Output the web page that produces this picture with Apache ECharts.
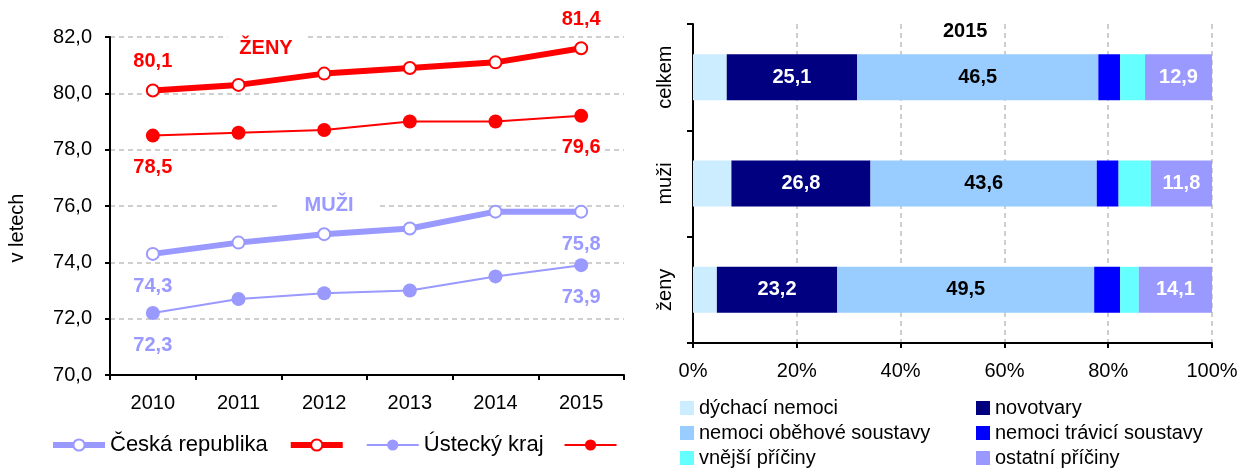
<!DOCTYPE html>
<html>
<head>
<meta charset="utf-8">
<script src="https://cdn.jsdelivr.net/npm/echarts@6/dist/echarts.min.js"></script>
<style>
html,body{margin:0;padding:0;background:#fff;}
#c{width:1243px;height:470px;}
</style>
</head>
<body>
<div id="c"></div>
<script>
// ---- Left chart data ----
const years = ['2010', '2011', '2012', '2013', '2014', '2015'];
const crZeny = [80.1, 80.3, 80.7, 80.9, 81.1, 81.6];
const ukZeny = [78.5, 78.6, 78.7, 79.0, 79.0, 79.2];
const crMuzi = [74.3, 74.7, 75.0, 75.2, 75.8, 75.8];
const ukMuzi = [72.2, 72.7, 72.9, 73.0, 73.5, 73.9];
const crZenyLbl = ['80,1', '', '', '', '', '81,4'];
const ukZenyLbl = ['78,5', '', '', '', '', '79,6'];
const crMuziLbl = ['74,3', '', '', '', '', '75,8'];
const ukMuziLbl = ['72,3', '', '', '', '', '73,9'];
const leftLegendNames = ['Česká republika', 'ČR ženy', 'Ústecký kraj', 'ÚK ženy'];
const leftLegendShown = ['Česká republika', '', 'Ústecký kraj', ''];

// ---- Right chart data ----
const groups = ['celkem', 'muži', 'ženy'];
const causes = ['dýchací nemoci', 'novotvary', 'nemoci oběhové soustavy', 'nemoci trávicí soustavy', 'vnější příčiny', 'ostatní příčiny'];
const dychaci = [6.5, 7.4, 4.6];
const novotvary = [25.1, 26.8, 23.2];
const obehove = [46.5, 43.6, 49.5];
const travici = [4.2, 4.2, 5.0];
const vnejsi = [4.8, 6.2, 3.6];
const ostatni = [12.9, 11.8, 14.1];
const xTickFmt = '{value}%';

const FONT = 'Liberation Sans, Arial, sans-serif';
const RED = '#FF0000';
const LAV = '#9999FF';

function fmt(v) { return v.toFixed(1).replace('.', ','); }

function pointData(vals, lbls, color, pos, dist) {
  return vals.map((v, i) => {
    if (!lbls[i]) return v;
    return {
      value: v,
      label: {
        show: true, position: pos, distance: dist,
        formatter: lbls[i], color: color, fontWeight: 'bold', fontSize: 20,
        fontFamily: FONT, backgroundColor: '#fff', padding: [0, 3]
      }
    };
  });
}

function lineSeries(name, vals, lbls, color, thick, hollow, pos, dist) {
  return {
    type: 'line', name: name, xAxisIndex: 0, yAxisIndex: 0,
    data: pointData(vals, lbls, color, pos, dist),
    symbol: 'circle', symbolSize: hollow ? 12 : 14,
    lineStyle: { color: color, width: thick ? 6 : 2 },
    itemStyle: hollow ? { color: '#fff', borderColor: color, borderWidth: 2 } : { color: color, borderWidth: 0 },
    label: { show: false },
    z: thick ? 3 : 2,
    animation: false
  };
}

function barSeries(name, vals, color, labelColor) {
  return {
    type: 'bar', name: name, stack: 'all', xAxisIndex: 1, yAxisIndex: 1,
    data: vals, barWidth: 46,
    itemStyle: { color: color },
    label: labelColor ? {
      show: true, position: 'inside', color: labelColor, fontWeight: 'bold',
      fontSize: 20, fontFamily: FONT, formatter: p => fmt(p.value)
    } : { show: false },
    animation: false
  };
}

const chart = echarts.init(document.getElementById('c'), null, { renderer: 'canvas' });
const axisLine = { show: true, lineStyle: { color: '#000', width: 2 } };
const gridDash = { show: true, lineStyle: { color: '#C0C0C0', type: [5, 4], width: 1.5 } };

chart.setOption({
  animation: false,
  textStyle: { fontFamily: FONT },
  grid: [
    { left: 110, top: 37, width: 514, height: 338, containLabel: false },
    { left: 693, top: 24, width: 519, height: 319, containLabel: false }
  ],
  xAxis: [
    {
      gridIndex: 0, type: 'category', data: years, boundaryGap: true,
      axisLine: axisLine,
      axisTick: { show: true, length: 5, lineStyle: { color: '#000', width: 2 } },
      axisLabel: { fontSize: 20, color: '#000', margin: 18, fontFamily: FONT },
      splitLine: { show: false }
    },
    {
      gridIndex: 1, type: 'value', min: 0, max: 100, interval: 20,
      axisLine: axisLine,
      axisTick: { show: true, length: 5, lineStyle: { color: '#000', width: 2 } },
      axisLabel: { fontSize: 20, color: '#000', margin: 18, formatter: xTickFmt, fontFamily: FONT },
      splitLine: gridDash
    }
  ],
  yAxis: [
    {
      gridIndex: 0, type: 'value', min: 70, max: 82, interval: 2,
      axisLine: axisLine,
      axisTick: { show: true, length: 5, lineStyle: { color: '#000', width: 2 } },
      axisLabel: { fontSize: 20, color: '#000', margin: 18, formatter: v => fmt(v), fontFamily: FONT },
      splitLine: gridDash
    },
    {
      gridIndex: 1, type: 'category', data: groups, inverse: true,
      axisLine: axisLine,
      axisTick: { show: true, length: 6, lineStyle: { color: '#000', width: 2 } },
      axisLabel: { fontSize: 20, color: '#000', margin: 18, rotate: 90, fontFamily: FONT },
      splitLine: { show: false }
    }
  ],
  title: {
    text: '2015', left: 943, top: 21, padding: 0,
    textStyle: { fontSize: 20, fontWeight: 'bold', color: '#000', fontFamily: FONT }
  },
  legend: [
    {
      data: [
        { name: leftLegendNames[0], lineStyle: { width: 6 } },
        { name: leftLegendNames[1], lineStyle: { width: 6 } },
        { name: leftLegendNames[2], lineStyle: { width: 2 } },
        { name: leftLegendNames[3], lineStyle: { width: 2 } }
      ],
      left: 50, top: 434, padding: 0,
      itemWidth: 52, itemHeight: 14, itemGap: 20, selectedMode: false,
      formatter: n => leftLegendShown[leftLegendNames.indexOf(n)],
      textStyle: { fontSize: 22, color: '#000', fontFamily: FONT }
    },
    {
      data: [causes[0], causes[2], causes[4]], orient: 'vertical', left: 680, top: 398, padding: 0,
      itemWidth: 14, itemHeight: 14, itemGap: 5, selectedMode: false, icon: 'rect',
      textStyle: { fontSize: 20, lineHeight: 20, color: '#000', fontFamily: FONT }
    },
    {
      data: [causes[1], causes[3], causes[5]], orient: 'vertical', left: 976, top: 398, padding: 0,
      itemWidth: 14, itemHeight: 14, itemGap: 5, selectedMode: false, icon: 'rect',
      textStyle: { fontSize: 20, lineHeight: 20, color: '#000', fontFamily: FONT }
    }
  ],
  graphic: [
    {
      type: 'text', x: 17, y: 228, rotation: Math.PI / 2,
      style: { text: 'v letech', fontSize: 20, fontFamily: FONT, fill: '#000', align: 'center', verticalAlign: 'middle' }
    },
    {
      type: 'text', x: 266, y: 48, z: 10,
      style: { text: 'ŽENY', fontSize: 20, fontWeight: 'bold', fontFamily: FONT, fill: RED, align: 'center', verticalAlign: 'middle', backgroundColor: '#fff', padding: [2, 12] }
    },
    {
      type: 'text', x: 329, y: 205, z: 10,
      style: { text: 'MUŽI', fontSize: 20, fontWeight: 'bold', fontFamily: FONT, fill: LAV, align: 'center', verticalAlign: 'middle', backgroundColor: '#fff', padding: [2, 24] }
    }
  ],
  series: [
    lineSeries(leftLegendNames[0], crMuzi, crMuziLbl, LAV, true, true, 'bottom', 16),
    lineSeries(leftLegendNames[1], crZeny, crZenyLbl, RED, true, true, 'top', 12),
    lineSeries(leftLegendNames[2], ukMuzi, ukMuziLbl, LAV, false, false, 'bottom', 15),
    lineSeries(leftLegendNames[3], ukZeny, ukZenyLbl, RED, false, false, 'bottom', 15),
    barSeries(causes[0], dychaci, '#CCECFF', null),
    barSeries(causes[1], novotvary, '#000080', '#fff'),
    barSeries(causes[2], obehove, '#99CCFF', '#000'),
    barSeries(causes[3], travici, '#0000FF', null),
    barSeries(causes[4], vnejsi, '#66FFFF', null),
    barSeries(causes[5], ostatni, '#9999FF', '#fff')
  ]
});
</script>
</body>
</html>
